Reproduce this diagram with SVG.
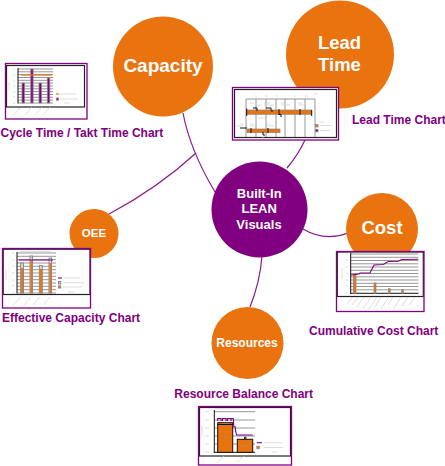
<svg xmlns="http://www.w3.org/2000/svg" width="445" height="466" viewBox="0 0 445 466">
<style>
.bg{fill:#fff}
.co{fill:#E8730F}
.cp{fill:#800080}
.tw{fill:#fff;font-family:"Liberation Sans",Arial,sans-serif;font-weight:bold;text-anchor:middle}
.lbl{fill:#800080;font-family:"Liberation Sans",Arial,sans-serif;font-weight:bold;font-size:12px}
.conn{fill:none;stroke:#8B1A8B;stroke-width:1.2}
.frame{fill:none;stroke:#800080;stroke-width:1.3}
.inner{fill:#fff;stroke:#222;stroke-width:1.2}
.grid{stroke:#8a8a8a;stroke-width:0.9}
.ax{stroke:#111;stroke-width:1}
.fk{stroke:#cfcfcf;stroke-width:0.7;fill:none}
.fkd{stroke:#9a9a9a;stroke-width:0.6;fill:none}
.barp{fill:#800080;stroke:#888;stroke-width:0.8}
.baro{fill:#E8730F;stroke:#888;stroke-width:0.7}
.barg{fill:#d8d8d8;stroke:#777;stroke-width:0.8}
.barob{fill:#E8730F;stroke:#111;stroke-width:1}
.lo{stroke:#E8730F;stroke-width:1.2}
.lp{stroke:#800080;stroke-width:1.1;fill:none}
</style>
<rect class="bg" x="0" y="0" width="445" height="466"/>

<g id="connectors">
<path class="conn" d="M183,113 Q190,150 215,192"/>
<path class="conn" d="M109,214 Q158,188 196,153"/>
<path class="conn" d="M305,140 Q298,155 287,168"/>
<path class="conn" d="M303,229 Q325,242 348,233"/>
<path class="conn" d="M262,256 Q260,282 250,307"/>
</g>

<g id="capacity">
<circle class="co" cx="163" cy="66.5" r="50"/>
<text class="tw" x="163" y="71.7" font-size="19">Capacity</text>
</g>

<g id="lead-time">
<circle class="co" cx="340" cy="54.5" r="54"/>
<text class="tw" x="339.5" y="49.3" font-size="18.5">Lead</text>
<text class="tw" x="339.5" y="71" font-size="18.5">Time</text>
</g>

<g id="built-in-lean-visuals">
<circle class="cp" cx="259.5" cy="209.5" r="48"/>
<text class="tw" x="259.2" y="197.7" font-size="13">Built-In</text>
<text class="tw" x="259.2" y="213.3" font-size="13">LEAN</text>
<text class="tw" x="259" y="229.3" font-size="13">Visuals</text>
</g>

<g id="cost">
<circle class="co" cx="382" cy="229" r="36"/>
<text class="tw" x="382" y="234.3" font-size="18.5">Cost</text>
</g>

<g id="oee">
<circle class="co" cx="94" cy="233.5" r="24.5"/>
<text class="tw" x="94" y="237.3" font-size="11.5">OEE</text>
</g>

<g id="resources">
<circle class="co" cx="247.5" cy="343" r="36"/>
<text class="tw" x="247" y="346.7" font-size="12">Resources</text>
</g>

<!-- Cycle Time / Takt Time Chart -->
<g id="cycle-time-chart">
<rect x="5.5" y="63.5" width="81.5" height="55.5" fill="#fff"/>
<rect class="inner" x="6.5" y="65.5" width="78" height="41.5"/>
<g class="grid">
<line x1="18" y1="69" x2="53" y2="69"/><line x1="18" y1="71.8" x2="53" y2="71.8"/><line x1="18" y1="74.6" x2="53" y2="74.6"/>
<line x1="18" y1="77.5" x2="53" y2="77.5"/><line x1="18" y1="80.3" x2="53" y2="80.3"/><line x1="18" y1="83.1" x2="53" y2="83.1"/>
<line x1="18" y1="86" x2="53" y2="86"/><line x1="18" y1="88.8" x2="53" y2="88.8"/><line x1="18" y1="91.6" x2="53" y2="91.6"/>
<line x1="18" y1="94.5" x2="53" y2="94.5"/><line x1="18" y1="97.3" x2="53" y2="97.3"/><line x1="18" y1="100.1" x2="53" y2="100.1"/>
<line x1="18" y1="103" x2="53" y2="103"/>
</g>
<line class="ax" x1="18" y1="68" x2="18" y2="103.5"/>
<rect class="barp" x="22" y="83" width="2.5" height="20"/>
<rect class="barp" x="30.8" y="69" width="2.3" height="34"/>
<rect class="barp" x="39" y="83" width="2.5" height="20"/>
<rect class="barp" x="47.3" y="78" width="2.5" height="25"/>
<line class="lo" x1="21" y1="75" x2="52" y2="75"/>
<line class="lo" x1="56" y1="94" x2="59" y2="94"/>
<rect class="barp" x="56.3" y="98" width="2.2" height="2.2"/>
<path class="fk" d="M60,94H76M60,99H78M64,103H70M13,69H15.5M13,75H15.5M13,81H15.5M13,86H15.5M13,92H15.5M13,97H15.5M13,103H15.5M9,82V90"/>
<path class="fk" d="M13,116L20,108M25,115L32,107M35,115L42,107M43,115L50,107"/>
<rect class="frame" x="5.5" y="63.5" width="81.5" height="55.5"/>
<text class="lbl" x="0.5" y="137">Cycle Time / Takt Time Chart</text>
</g>

<!-- Lead Time Chart -->
<g id="lead-time-chart">
<rect x="232.5" y="87.5" width="106" height="52.5" fill="#fff"/>
<rect class="inner" x="234.5" y="89.5" width="102" height="48"/>
<g class="grid">
<line x1="246" y1="99" x2="315" y2="99"/>
<line x1="246" y1="99" x2="246" y2="137"/><line x1="256" y1="99" x2="256" y2="137"/><line x1="266" y1="99" x2="266" y2="137"/>
<line x1="276" y1="99" x2="276" y2="137"/><line x1="285" y1="99" x2="285" y2="137"/><line x1="295" y1="99" x2="295" y2="137"/>
<line x1="305" y1="99" x2="305" y2="137"/><line x1="315" y1="99" x2="315" y2="137"/>
</g>
<rect class="baro" x="246.7" y="110" width="65" height="4.3" stroke-width="1"/>
<rect class="baro" x="247" y="129" width="33" height="3.7" stroke-width="1"/>
<path class="ax" fill="none" d="M246.7,108.5V116M311.7,110V116M253,108H257V111M266,108H271V110.5M272,110V112M279,109V115M300,109V115M279,114.5H281V117M240,128H247M251,128V133M268,128V133M263,132V135H265"/>
<rect class="baro" x="315.5" y="124.5" width="2.5" height="2.5"/>
<rect class="barp" x="315.5" y="129.3" width="2.5" height="2.5"/>
<path class="fk" d="M319,122H324M320,125.5H332M320,130.5H330M255,96H257M265,96H268M276,96H278M294,96H296M305,96H308M313,94H318M250,103H254M255,105H262M264,103H270M264,105H274M281,103H285M281,105H290M298,103H302M298,105H306M240,124H244M236,126H243M250,124H254M250,126H256M266,124H270M265,126H274M258,118H266M262,138H264"/>
<rect class="frame" x="232.5" y="87.5" width="106" height="52.5"/>
<text class="lbl" x="352" y="124">Lead Time Chart</text>
</g>

<!-- Effective Capacity Chart -->
<g id="effective-capacity-chart">
<rect x="2.5" y="248.5" width="88" height="59.5" fill="#fff"/>
<rect class="inner" x="3.2" y="249.2" width="86.8" height="45.3"/>
<g class="grid">
<line x1="17" y1="253" x2="56" y2="253"/><line x1="17" y1="256.3" x2="56" y2="256.3"/><line x1="17" y1="259.7" x2="56" y2="259.7"/>
<line x1="17" y1="263" x2="56" y2="263"/><line x1="17" y1="266.3" x2="56" y2="266.3"/><line x1="17" y1="269.7" x2="56" y2="269.7"/>
<line x1="17" y1="273" x2="56" y2="273"/><line x1="17" y1="276.3" x2="56" y2="276.3"/><line x1="17" y1="279.7" x2="56" y2="279.7"/>
<line x1="17" y1="283" x2="56" y2="283"/><line x1="17" y1="286.3" x2="56" y2="286.3"/><line x1="17" y1="289.7" x2="56" y2="289.7"/>
<line x1="17" y1="293" x2="56" y2="293"/>
</g>
<line class="ax" x1="17" y1="252" x2="17" y2="293.5"/>
<rect class="barg" x="20.7" y="263" width="2.8" height="30"/><rect class="co" x="21.1" y="268" width="2" height="25"/>
<rect class="barg" x="30" y="256" width="2.6" height="37"/><rect class="co" x="30.4" y="260.5" width="1.8" height="32.5"/>
<rect class="barg" x="39.3" y="265.7" width="3" height="27.3"/><rect class="co" x="39.7" y="269" width="2.2" height="24"/>
<rect class="barg" x="49" y="258" width="2.6" height="35"/><rect class="co" x="49.4" y="263" width="1.8" height="30"/>
<line class="lp" x1="19" y1="260" x2="53" y2="260"/>
<line class="lp" x1="58" y1="278" x2="62" y2="278"/>
<rect class="barg" x="58.5" y="281.5" width="2.3" height="2.5"/>
<rect class="baro" x="58.5" y="285.8" width="2.3" height="2.3"/>
<path class="fk" d="M63,278H80M63,282.7H84M63,287H82M68,292H75M20,251.5H50M12,253H14.5M12,260H14.5M12,266H14.5M12,273H14.5M12,280H14.5M12,286H14.5M12,293H14.5M6,270V280"/>
<path class="fk" d="M12,306L21,297M24,305L31,297M33,305L40,297M43,305L50,297"/>
<rect class="frame" x="2.5" y="248.5" width="88" height="59.5"/>
<text class="lbl" x="2" y="322">Effective Capacity Chart</text>
</g>

<!-- Cumulative Cost Chart -->
<g id="cumulative-cost-chart">
<rect x="336.5" y="251.5" width="87.5" height="60" fill="#fff"/>
<rect class="inner" x="337.3" y="252" width="86" height="44.5"/>
<g class="grid">
<line x1="350.7" y1="254" x2="418.3" y2="254"/><line x1="350.7" y1="257.3" x2="418.3" y2="257.3"/><line x1="350.7" y1="260.5" x2="418.3" y2="260.5"/>
<line x1="350.7" y1="263.8" x2="418.3" y2="263.8"/><line x1="350.7" y1="267" x2="418.3" y2="267"/><line x1="350.7" y1="270.3" x2="418.3" y2="270.3"/>
<line x1="350.7" y1="273.5" x2="418.3" y2="273.5"/><line x1="350.7" y1="276.8" x2="418.3" y2="276.8"/><line x1="350.7" y1="280" x2="418.3" y2="280"/>
<line x1="350.7" y1="283.3" x2="418.3" y2="283.3"/><line x1="350.7" y1="286.5" x2="418.3" y2="286.5"/><line x1="350.7" y1="289.8" x2="418.3" y2="289.8"/>
</g>
<line class="ax" x1="350.7" y1="253" x2="350.7" y2="293.5"/>
<line class="ax" x1="350.2" y1="293.3" x2="418.5" y2="293.3"/>
<rect class="baro" x="353.3" y="274.7" width="2.7" height="18.6"/>
<rect class="baro" x="374" y="283" width="2" height="10.3"/>
<rect class="baro" x="388.4" y="288.7" width="1.8" height="4.6"/>
<rect class="baro" x="401.7" y="289.7" width="1.8" height="3.6"/>
<polyline class="lp" points="351,275 359,274 360,273 370,273 374,265 383.3,264.5 388.3,261.5 398.3,261.3 401.7,259.5 418.3,259.3"/>
<path class="fk" d="M352,253.3H376M346,254H348M346,260H348M346,267H348M346,273H348M346,280H348M346,286H348M346,293H348M342,268V279"/>
<path class="fk" d="M347,304L353,297M352,305L358,297M357,307L364,297M363,309L371,297M368,310L377,297M375,307L381,297M381,309L389,297M388,305L393,297M394,308L401,297M402,306L408,297M409,305L415,297"/>
<rect class="frame" x="336.5" y="251.5" width="87.5" height="60"/>
<text class="lbl" x="309" y="335">Cumulative Cost Chart</text>
</g>

<!-- Resource Balance Chart -->
<g id="resource-balance-chart">
<rect x="198.5" y="406.5" width="93" height="58.5" fill="#fff"/>
<rect class="inner" x="199.5" y="407.5" width="91" height="48.5"/>
<g class="grid">
<line x1="214.3" y1="411.7" x2="255" y2="411.7"/><line x1="214.3" y1="420" x2="255" y2="420"/><line x1="214.3" y1="428" x2="255" y2="428"/>
<line x1="214.3" y1="436" x2="255" y2="436"/><line x1="214.3" y1="444" x2="255" y2="444"/>
</g>
<line class="ax" x1="214.3" y1="410" x2="214.3" y2="452.7"/>
<line class="ax" x1="213.8" y1="452.3" x2="255" y2="452.3"/>
<rect class="barob" x="217.7" y="422.7" width="15" height="29.6"/>
<line class="ax" x1="217.7" y1="424.5" x2="232.7" y2="424.5"/>
<rect class="barob" x="237.3" y="439.3" width="15.4" height="13"/>
<path class="ax" fill="none" d="M244.5,439V437.3H246V439"/>
<path class="lp" d="M217.7,421V418.5H221V421M222.5,421V418.5H226V421M227.5,421V418.5H231V421M231.5,418.5H233.3L233.8,426.7H235.2L235.7,431.7L236.7,435H252.7"/>
<line class="lp" x1="256.7" y1="442.7" x2="262" y2="442.7"/>
<rect class="baro" x="256.8" y="446.2" width="2.6" height="2.6"/>
<path class="fk" d="M264,442.7H282M264,447.5H283M272,452H277M215,409H240M205,411.7H209M205,420H209M205,428H209M205,436H209M205,444H209M205,452H209M202,426V437M216.5,463L224,456M236.5,463L244,456"/>
<path class="fkd" d="M222,423.5H228M223,437H228M242,446H248"/>
<rect class="frame" x="198.5" y="406.5" width="93" height="58.5"/>
<text class="lbl" x="174.3" y="397.5">Resource Balance Chart</text>
</g>
</svg>
